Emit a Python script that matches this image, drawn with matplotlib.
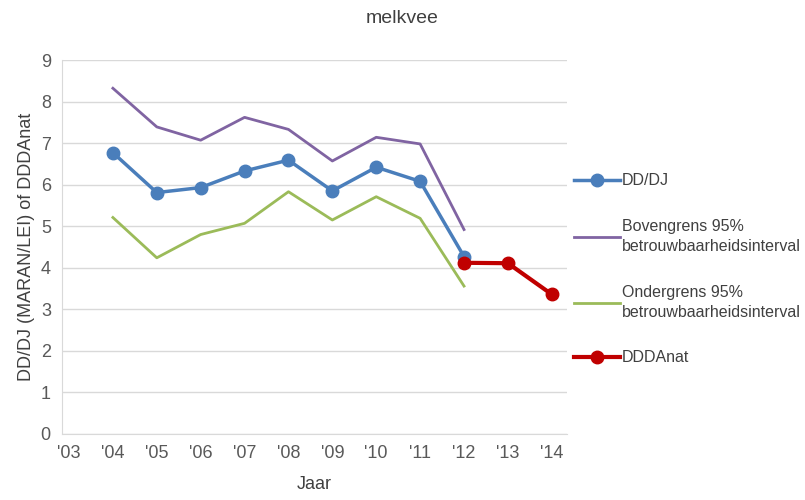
import matplotlib.pyplot as plt

plt.rcParams['font.family'] = ['Liberation Sans', 'DejaVu Sans']

years = ["'03", "'04", "'05", "'06", "'07", "'08", "'09", "'10", "'11", "'12", "'13", "'14"]

# DD/DJ en betrouwbaarheidsinterval ('04 t/m '12)
dddj = [6.77, 5.81, 5.93, 6.33, 6.59, 5.85, 6.42, 6.08, 4.27]
bovengrens = [8.32, 7.39, 7.07, 7.62, 7.33, 6.57, 7.14, 6.98, 4.92]
ondergrens = [5.21, 4.24, 4.80, 5.07, 5.83, 5.15, 5.71, 5.19, 3.56]
# DDDAnat ('12 t/m '14)
dddanat = [4.12, 4.11, 3.36]

x_main = list(range(1, 10))
x_anat = list(range(9, 12))

fig = plt.figure(figsize=(8.05, 5), dpi=100)
ax = fig.add_axes([0.077, 0.132, 0.627, 0.748])

ax.plot(x_main, dddj, color='#4A7EBB', lw=2.5, marker='o', ms=9, label='DD/DJ', zorder=3)
ax.plot(x_main, bovengrens, color='#8064A2', lw=2, label='Bovengrens 95%\nbetrouwbaarheidsinterval')
ax.plot(x_main, ondergrens, color='#9BBB59', lw=2, label='Ondergrens 95%\nbetrouwbaarheidsinterval')
ax.plot(x_anat, dddanat, color='#C00000', lw=3, marker='o', ms=9, label='DDDAnat', zorder=4)

ax.set_xlim(-0.16, 11.34)
ax.set_ylim(0, 9)
ax.set_yticks(range(0, 10))
ax.set_xticks(range(len(years)))
ax.set_xticklabels(years)
ax.yaxis.grid(True, color='#D9D9D9', lw=1)
ax.set_axisbelow(True)
for s in ['top', 'right']:
    ax.spines[s].set_visible(False)
ax.spines['left'].set_color('#D9D9D9')
ax.spines['bottom'].set_color('#D9D9D9')
ax.tick_params(length=0, labelsize=13, colors='#595959', pad=8)

ax.set_ylabel('DD/DJ (MARAN/LEI) of DDDAnat', fontsize=13, color='#404040')
ax.set_xlabel('Jaar', fontsize=13, color='#404040', labelpad=10)
fig.suptitle('melkvee', fontsize=14, color='#404040', x=0.5, y=0.98)

leg = ax.legend(loc='upper left', bbox_to_anchor=(0.985, 0.735), frameon=False,
                fontsize=11.5, labelcolor='#404040', handlelength=2.9, handletextpad=0.15,
                labelspacing=1.9)
for t in leg.get_texts():
    t.set_linespacing(1.45)

fig.savefig('out.png', dpi=100)
